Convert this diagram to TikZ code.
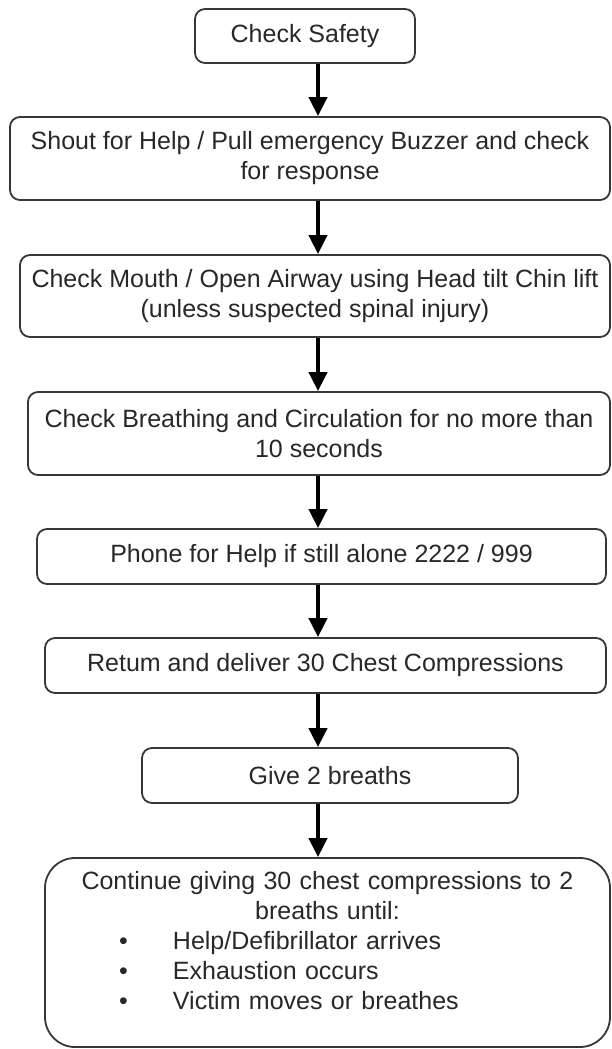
\documentclass[tikz,border=0pt]{standalone}
\usepackage{fontspec}
\setmainfont{Liberation Sans}
\usepackage{tikz}
\usetikzlibrary{positioning, arrows.meta, calc}
\definecolor{boxline}{RGB}{55,55,55}
\definecolor{boxtext}{RGB}{40,40,40}
\newcommand{\bulletline}[1]{\hspace*{62pt}\makebox[54pt][l]{\textbullet}#1}

\begin{document}
\begin{tikzpicture}[x=1pt, y=-1pt,
    stepbox/.style={draw=boxline, line width=1.8pt, rounded corners=10pt, fill=white,
        text=boxtext, align=center, inner sep=0pt,
        font=\fontsize{25}{30}\selectfont},
    flowarrow/.style={-{Triangle[width=18pt, length=19pt]}, line width=4pt, black}]
    \useasboundingbox (0,0) rectangle (611,1049);

    % === Steps ===
    \node[stepbox, minimum width=220pt, minimum height=54pt] (safety) at (305,36) {Check Safety};
    \node[stepbox, minimum width=600pt, minimum height=83pt] (shout) at (310,158.5)
        {Shout for Help / Pull emergency Buzzer and check\\ for response};
    \node[stepbox, minimum width=590pt, minimum height=82pt] (airway) at (315,296)
        {Check Mouth / Open Airway using Head tilt Chin lift\\ (unless suspected spinal injury)};
    \node[stepbox, minimum width=582pt, minimum height=83pt] (breathing) at (319,433.5)
        {Check Breathing and Circulation for no more than\\ 10 seconds};
    \node[stepbox, minimum width=569pt, minimum height=55pt] (phone) at (321.5,556.5)
        {Phone for Help if still alone 2222 / 999};
    \node[stepbox, minimum width=561pt, minimum height=55pt] (compress) at (325.5,665.5)
        {Retum and deliver 30 Chest Compressions};
    \node[stepbox, minimum width=376pt, minimum height=55pt] (breaths) at (330,775.5)
        {Give 2 breaths};

    % Last box with the list
    \node[stepbox, rounded corners=30pt, minimum width=565pt, minimum height=189pt,
        text width=541pt, align=left] (continue) at (327.5,952.5)
        {\centering Continue giving 30 chest compressions to 2\\ breaths until:\par
         \raggedright
         \bulletline{Help/Defibrillator arrives}\\
         \bulletline{Exhaustion occurs}\\
         \bulletline{Victim moves or breathes}\par\vspace{24pt}};

    % === Arrows ===
    \coordinate (spine) at (318,0);
    \draw[flowarrow] (safety.south -| spine) -- (shout.north -| spine);
    \draw[flowarrow] (shout.south -| spine) -- (airway.north -| spine);
    \draw[flowarrow] (airway.south -| spine) -- (breathing.north -| spine);
    \draw[flowarrow] (breathing.south -| spine) -- (phone.north -| spine);
    \draw[flowarrow] (phone.south -| spine) -- (compress.north -| spine);
    \draw[flowarrow] (compress.south -| spine) -- (breaths.north -| spine);
    \draw[flowarrow] (breaths.south -| spine) -- (continue.north -| spine);
\end{tikzpicture}
\end{document}
